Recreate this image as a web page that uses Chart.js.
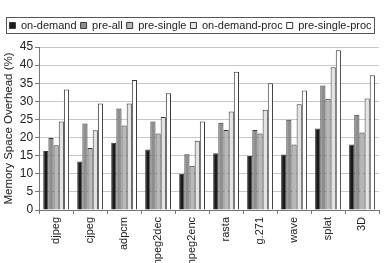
<!DOCTYPE html>
<html>
<head>
<meta charset="utf-8">
<script src="https://cdn.jsdelivr.net/npm/chart.js@4.4.0/dist/chart.umd.min.js"></script>
<style>
html,body{margin:0;padding:0;background:#fff;overflow:hidden;}
#wrap{width:384px;height:263px;overflow:hidden;position:relative;}
canvas{display:block;}
</style>
</head>
<body>
<div id="wrap"><canvas id="c" width="384" height="278"></canvas></div>
<script>
const categories = ["djpeg","cjpeg","adpcm","mpeg2dec","mpeg2enc","rasta","g.271","wave","splat","3D"];
const onDemand      = [16.3, 13.4, 18.6, 16.7, 10.0, 15.7, 14.9, 15.3, 22.5, 18.1];
const preAll        = [19.9, 23.9, 28.0, 24.4, 15.4, 24.1, 22.1, 24.9, 34.4, 26.3];
const preSingle     = [17.9, 17.1, 23.3, 21.1, 12.2, 22.1, 21.1, 18.1, 30.7, 21.4];
const onDemandProc  = [24.4, 22.0, 29.4, 25.7, 19.1, 27.2, 27.7, 29.2, 39.4, 30.8];
const preSingleProc = [33.3, 29.4, 35.9, 32.2, 24.4, 38.2, 35.0, 33.0, 44.1, 37.2];
const seriesNames = ["on-demand","pre-all","pre-single","on-demand-proc","pre-single-proc"];
const yTicks = [0,5,10,15,20,25,30,35,40,45];

const fills = ["#1a1a1a","#8e8e8e","#b8b8b8","#e4e4e4","#ffffff"];
const allSeries = [onDemand, preAll, preSingle, onDemandProc, preSingleProc];

const legendBorder = {
  id:'legendBorder',
  afterInit(chart){
    const lg = chart.legend;
    if(lg && !lg._patched){
      const orig = lg.fit.bind(lg);
      lg.fit = function(){ orig(); this.height += 6; };
      lg._patched = true;
    }
  },
  afterDraw(chart){
    const lg = chart.legend;
    if(!lg || !lg.legendHitBoxes || !lg.legendHitBoxes.length) return;
    const hb = lg.legendHitBoxes;
    let l = Infinity, r = -Infinity, t = Infinity, b = -Infinity;
    hb.forEach(h=>{l=Math.min(l,h.left);r=Math.max(r,h.left+h.width);t=Math.min(t,h.top);b=Math.max(b,h.top+h.height);});
    const ctx = chart.ctx;
    ctx.save();
    ctx.strokeStyle = '#555';
    ctx.lineWidth = 1;
    ctx.strokeRect(Math.round(l-3)+0.5, Math.round(t-3)+0.5, Math.round(r-l+6), Math.round(b-t+5));
    ctx.restore();
  }
};

new Chart(document.getElementById('c'), {
  type:'bar',
  data:{
    labels: categories,
    datasets: allSeries.map((d,i)=>({
      label: seriesNames[i],
      data: d,
      backgroundColor: fills[i],
      borderColor: '#3a3a3a',
      borderWidth: 1,
      categoryPercentage: 0.76,
      barPercentage: 1.0
    }))
  },
  options:{
    responsive:false,
    animation:false,
    devicePixelRatio:1,
    layout:{padding:{top:16,right:5,left:2,bottom:0}},
    plugins:{
      tooltip:{enabled:false},
      legend:{
        position:'top',
        align:'center',
        labels:{
          boxWidth:6, boxHeight:6,
          padding:4,
          color:'#222',
          font:{family:'"Liberation Sans", Arial, sans-serif', size:11}
        }
      }
    },
    scales:{
      x:{
        afterFit(axis){ axis.height = 68; },
        grid:{display:true, offset:true, drawOnChartArea:false, drawTicks:true, tickLength:4, color:'#777'},
        border:{color:'#777'},
        ticks:{
          autoSkip:false, maxRotation:90, minRotation:90, padding:3,
          color:'#222',
          font:{family:'"Liberation Sans", Arial, sans-serif', size:11}
        }
      },
      y:{
        min:0, max:45,
        afterBuildTicks(axis){ axis.ticks = yTicks.map(v=>({value:v})); },
        grid:{color:'#c8c8c8', tickColor:'#777', tickLength:4, drawTicks:true},
        border:{color:'#777'},
        ticks:{
          padding:2, color:'#222',
          font:{family:'"Liberation Sans", Arial, sans-serif', size:12}
        },
        title:{
          display:true, text:'Memory Space Overhead (%)', color:'#222',
          padding:{top:0,bottom:2},
          font:{family:'"Liberation Sans", Arial, sans-serif', size:11.5}
        }
      }
    }
  },
  plugins:[legendBorder]
});
</script>
</body>
</html>
